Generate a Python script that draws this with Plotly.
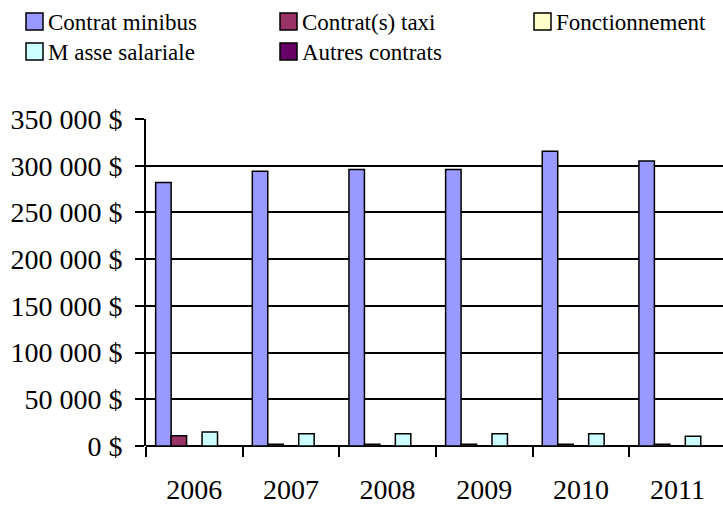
import plotly.graph_objects as go

years = ["2006", "2007", "2008", "2009", "2010", "2011"]
minibus = [282000, 294000, 296000, 296000, 315500, 305000]
taxi = [11000, 2000, 2000, 2000, 2000, 2000]
fonctionnement = [0, 0, 0, 0, 0, 0]
masse = [15000, 13000, 13000, 13000, 13000, 10500]
autres = [0, 0, 0, 0, 0, 0]

series_names = ["Contrat minibus", "Contrat(s) taxi", "Fonctionnement",
                "M asse salariale", "Autres contrats"]
series_values = [minibus, taxi, fonctionnement, masse, autres]
series_colors = ["#9999FF", "#993366", "#FFFFCC", "#CCFFFF", "#660066"]

tick_vals = [0, 50000, 100000, 150000, 200000, 250000, 300000, 350000]
tick_text = ["0 $", "50 000 $", "100 000 $", "150 000 $", "200 000 $",
             "250 000 $", "300 000 $", "350 000 $"]

font = "Liberation Serif"
W, H = 723, 506
ML, MR, MT, MB = 146, 0, 119, 60
PW, PH = W - ML - MR, H - MT - MB


def px_x(p):
    return (p - ML) / PW


def px_y(p):
    return (H - MB - p) / PH


fig = go.Figure()
for name, vals, col in zip(series_names, series_values, series_colors):
    fig.add_trace(go.Bar(
        x=years, y=vals, name=name, showlegend=False,
        marker=dict(color=col, line=dict(color="black", width=1.5)),
    ))

# Custom legend (symbols as shapes, labels as annotations)
legend_pos = [(26, 21.5), (280, 21.5), (534, 21.5), (26, 51.5), (280, 51.5)]
shapes = []
annotations = []
for (lx, ly), name, col in zip(legend_pos, series_names, series_colors):
    shapes.append(dict(
        type="rect", xref="paper", yref="paper",
        x0=px_x(lx), x1=px_x(lx + 17), y0=px_y(ly - 8.5), y1=px_y(ly + 8.5),
        fillcolor=col, line=dict(color="black", width=1.5), layer="above",
    ))
    annotations.append(dict(
        text=name, xref="paper", yref="paper",
        x=px_x(lx + 20), y=px_y(ly + 1), xanchor="left", yanchor="middle",
        showarrow=False, font=dict(family=font, size=23, color="black"),
    ))

fig.update_layout(
    width=W, height=H,
    margin=dict(l=ML, r=MR, t=MT, b=MB, autoexpand=False),
    paper_bgcolor="white", plot_bgcolor="white",
    barmode="group", bargap=0.2, bargroupgap=0,
    font=dict(family=font, color="black"),
    showlegend=False,
    shapes=shapes, annotations=annotations,
    xaxis=dict(
        range=[-0.5, 5.47],
        showline=False, ticks="outside", tickson="boundaries",
        ticklen=10, tickcolor="black", tickwidth=1.5,
        tickfont=dict(family=font, size=28, color="black"),
        ticklabelstandoff=24,
        showgrid=False, automargin=False,
    ),
    yaxis=dict(
        range=[0, 350000], tickvals=tick_vals, ticktext=tick_text,
        showline=True, linecolor="black", linewidth=2,
        ticks="outside", ticklen=9, tickcolor="black", tickwidth=1.5,
        showgrid=True, gridcolor="black", gridwidth=1.5,
        zeroline=True, zerolinecolor="black", zerolinewidth=1.5,
        tickfont=dict(family=font, size=28, color="black"),
        ticklabelstandoff=7,
        automargin=False,
    ),
)

fig.write_html(
    "out.html",
    config={"displayModeBar": False},
    post_script="document.body.style.margin='0';document.body.style.overflow='hidden';",
)
